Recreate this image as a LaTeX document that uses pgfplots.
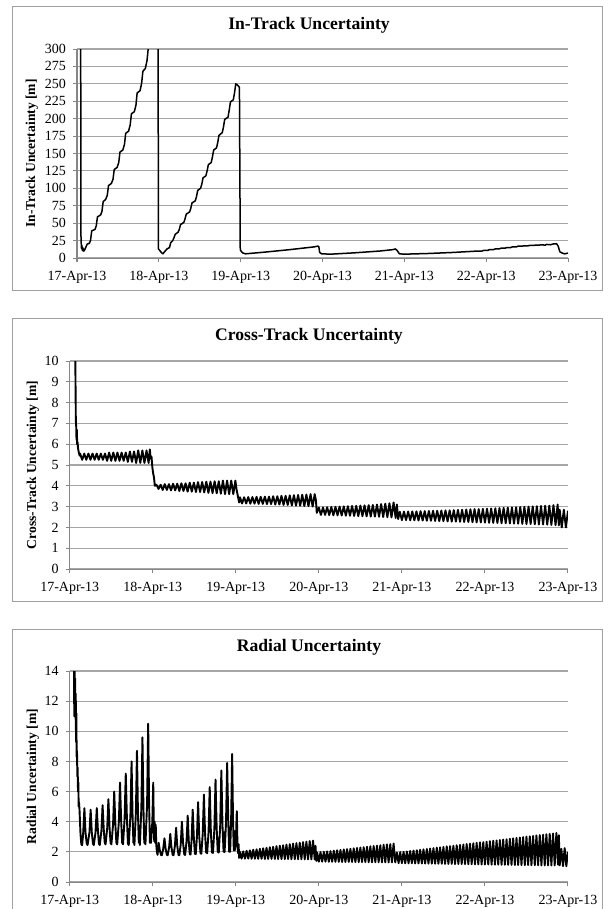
\documentclass[border=0pt]{standalone}
\usepackage{pgfplots}
\pgfplotsset{compat=1.18}
\usepackage{fontspec}
\setmainfont{Liberation Serif}

\definecolor{gridGray}{HTML}{A6A6A6}
\definecolor{axisGray}{HTML}{868686}
\definecolor{boxGray}{HTML}{A0A0A0}

\pgfplotsset{
  panel/.style={
    scale only axis,
    anchor=south west,
    xmin=0, xmax=6,
    xtick={0,1,2,3,4,5,6},
    xticklabels={17-Apr-13,18-Apr-13,19-Apr-13,20-Apr-13,21-Apr-13,22-Apr-13,23-Apr-13},
    axis lines*=left,
    axis line style={draw=axisGray, line width=0.5pt},
    tick style={draw=axisGray, line width=0.5pt},
    tick align=outside,
    major tick length=2pt,
    ymajorgrids,
    major grid style={draw=gridGray, line width=0.55pt},
    tick label style={font=\fontsize{7}{8}\selectfont},
    /pgf/number format/assume math mode=true,
    xticklabel style={yshift=-1pt},
    clip=true,
  },
  trace/.style={black, line width=0.75pt, line join=round, no markers},
  band/.style={black, line width=0.95pt, line join=round, no markers},
}

\begin{document}
\begin{tikzpicture}
\path[use as bounding box] (0,0) rectangle (303.5pt,-454.5pt);

% frames round the three panels
\draw[boxGray, line width=0.5pt] (6pt,-3.5pt) rectangle (301pt,-145pt);
\draw[boxGray, line width=0.5pt] (6pt,-159pt) rectangle (301pt,-300.5pt);
\draw[boxGray, line width=0.5pt] (6pt,-314.5pt) rectangle (301pt,-460pt);

\node[font=\bfseries\fontsize{8.8}{10}\selectfont] at (154.5pt,-12.5pt) {In-Track Uncertainty};
\node[font=\bfseries\fontsize{8.8}{10}\selectfont] at (154.5pt,-168pt) {Cross-Track Uncertainty};
\node[font=\bfseries\fontsize{8.8}{10}\selectfont] at (154.5pt,-323.5pt) {Radial Uncertainty};

% ---------------- In-Track ----------------
\begin{axis}[panel,
  at={(38.5pt,-129pt)}, width=245.5pt, height=104.5pt,
  ymin=0, ymax=300, ytick={0,25,...,300},
  ylabel={In-Track Uncertainty [m]},
  every axis y label/.style={at={(axis description cs:-0.0917,0.5)}, rotate=90, anchor=center,
    font=\bfseries\fontsize{6.8}{8}\selectfont},
]
\addplot[trace] coordinates {
(0.045,400) (0.047,40) (0.05,25) (0.055,14) (0.06,18) (0.065,11) (0.07,15) (0.075,10)
(0.08,13) (0.085,10) (0.095,12) (0.11,16) (0.125,20) (0.15,21) (0.165,25) (0.18,39)
(0.22,41) (0.235,46) (0.25,59) (0.29,62) (0.305,67) (0.32,81) (0.35,84) (0.37,90)
(0.385,104) (0.42,107) (0.44,113) (0.455,127) (0.49,130) (0.51,137) (0.525,152)
(0.56,155) (0.58,163) (0.595,179) (0.63,182) (0.65,191) (0.665,207) (0.70,210)
(0.72,219) (0.735,237) (0.77,240) (0.79,251) (0.805,268) (0.835,272) (0.855,283)
(0.87,300) (0.90,330) (0.99,400) (0.995,13) (1.01,11) (1.03,8) (1.05,6) (1.07,9)
(1.10,13) (1.13,15) (1.145,22) (1.17,25) (1.185,29) (1.20,34) (1.235,37) (1.25,41)
(1.265,48) (1.305,51) (1.32,56) (1.335,63) (1.375,66) (1.39,71) (1.405,79) (1.445,82)
(1.46,88) (1.475,97) (1.51,100) (1.525,106) (1.54,115) (1.575,118) (1.59,125)
(1.605,134) (1.64,137) (1.655,145) (1.67,155) (1.705,158) (1.72,166) (1.735,176)
(1.775,180) (1.79,188) (1.805,199) (1.845,202) (1.86,212) (1.875,224) (1.91,227)
(1.925,237) (1.94,250) (1.955,249) (1.97,247) (1.985,245) (1.995,12) (2.01,9)
(2.03,7) (2.06,6) (2.3,8.5) (2.6,12) (2.9,16) (2.94,17) (2.955,16.5) (2.965,8)
(2.99,6) (3.1,5.5) (3.4,7.5) (3.7,10) (3.82,11.5) (3.86,12) (3.89,13) (3.91,11)
(3.94,6) (4.0,5.5) (4.3,6.5) (4.6,8) (4.9,10) (4.95,10) (4.97,11) (5.02,11) (5.04,12)
(5.09,12) (5.11,13) (5.16,13) (5.18,14) (5.23,14) (5.25,15) (5.3,15) (5.32,16)
(5.37,16) (5.39,17) (5.44,17) (5.46,17.5) (5.51,17.5) (5.53,18) (5.58,18) (5.6,18.5)
(5.65,18.5) (5.67,19) (5.72,18.5) (5.74,19.5) (5.79,19) (5.81,20) (5.86,20.5)
(5.88,17) (5.9,9) (5.93,7) (5.96,6) (6.0,7)
};
\end{axis}

% ---------------- Cross-Track ----------------
\begin{axis}[panel,
  at={(34.85pt,-284.5pt)}, width=249.15pt, height=104pt,
  ymin=0, ymax=10, ytick={0,1,...,10},
  ylabel={Cross-Track Uncertainty [m]},
  every axis y label/.style={at={(axis description cs:-0.0737,0.5)}, rotate=90, anchor=center,
    font=\bfseries\fontsize{6.8}{8}\selectfont},
]
\addplot[band] coordinates {
(0.065,11) (0.07,9) (0.074,7.1) (0.078,6.9) (0.082,6.2) (0.086,6.7) (0.09,6.0)
(0.095,6.1) (0.1,5.8) (0.11,5.6) (0.12,5.45)
(0.125,5.55) (0.15,5.25) (0.175,5.55) (0.2,5.25) (0.225,5.55) (0.25,5.25) (0.275,5.55)
(0.3,5.25) (0.325,5.55) (0.35,5.25) (0.375,5.55) (0.4,5.25) (0.425,5.55) (0.45,5.2)
(0.475,5.6) (0.5,5.2) (0.525,5.6) (0.55,5.2) (0.575,5.6) (0.6,5.2) (0.625,5.6)
(0.65,5.2) (0.675,5.6) (0.7,5.15) (0.725,5.65) (0.75,5.15) (0.775,5.65) (0.8,5.1)
(0.825,5.7) (0.85,5.1) (0.875,5.7) (0.9,5.1) (0.925,5.7) (0.95,5.1) (0.965,5.75)
(0.975,5.3) (0.985,5.4) (0.995,4.9) (1.005,4.6) (1.015,4.4) (1.025,4.0) (1.045,4.05)
(1.07,3.85) (1.095,4.05) (1.12,3.8) (1.145,4.08) (1.17,3.8) (1.195,4.08) (1.22,3.78)
(1.245,4.1) (1.27,3.78) (1.295,4.1) (1.32,3.75) (1.345,4.12) (1.37,3.75) (1.395,4.12)
(1.42,3.72) (1.445,4.15) (1.47,3.72) (1.495,4.15) (1.52,3.7) (1.545,4.18) (1.57,3.7)
(1.595,4.18) (1.62,3.68) (1.645,4.2) (1.67,3.66) (1.695,4.2) (1.72,3.65) (1.745,4.22)
(1.77,3.64) (1.795,4.22) (1.82,3.62) (1.845,4.25) (1.87,3.6) (1.895,4.25) (1.92,3.6)
(1.945,4.25) (1.97,3.6) (1.995,4.25) (2.01,3.8) (2.02,3.6) (2.03,3.4) (2.04,3.2)
(2.05,3.45) (2.075,3.15) (2.1,3.45) (2.125,3.15) (2.15,3.46) (2.175,3.14) (2.2,3.46)
(2.225,3.14) (2.25,3.47) (2.275,3.13) (2.3,3.47) (2.325,3.13) (2.35,3.48) (2.375,3.12)
(2.4,3.48) (2.425,3.12) (2.45,3.5) (2.475,3.1) (2.5,3.5) (2.525,3.1) (2.55,3.52)
(2.575,3.08) (2.6,3.52) (2.625,3.08) (2.65,3.54) (2.675,3.06) (2.7,3.55) (2.725,3.05)
(2.75,3.56) (2.775,3.04) (2.8,3.57) (2.825,3.03) (2.85,3.58) (2.875,3.02) (2.9,3.6)
(2.925,3.0) (2.95,3.6) (2.965,3.3) (2.975,2.7)
(3.0,2.95) (3.025,2.6) (3.05,2.96) (3.075,2.6) (3.1,2.97) (3.125,2.59) (3.15,2.98)
(3.175,2.58) (3.2,2.99) (3.225,2.58) (3.25,3.0) (3.275,2.57) (3.3,3.01) (3.325,2.56)
(3.35,3.02) (3.375,2.56) (3.4,3.03) (3.425,2.55) (3.45,3.04) (3.475,2.54) (3.5,3.05)
(3.525,2.54) (3.55,3.06) (3.575,2.53) (3.6,3.07) (3.625,2.52) (3.65,3.08) (3.675,2.52)
(3.7,3.1) (3.725,2.51) (3.75,3.12) (3.775,2.5) (3.8,3.14) (3.825,2.49) (3.85,3.16)
(3.875,2.48) (3.9,3.2) (3.925,2.45) (3.94,3.1) (3.955,2.4)
(3.975,2.75) (4.0,2.35) (4.025,2.76) (4.05,2.35) (4.075,2.76) (4.1,2.34) (4.125,2.77)
(4.15,2.34) (4.175,2.77) (4.2,2.33) (4.225,2.78) (4.25,2.33) (4.275,2.78) (4.3,2.32)
(4.325,2.79) (4.35,2.32) (4.375,2.8) (4.4,2.31) (4.425,2.8) (4.45,2.3) (4.475,2.81)
(4.5,2.3) (4.525,2.82) (4.55,2.29) (4.575,2.82) (4.6,2.28) (4.625,2.83) (4.65,2.28)
(4.675,2.84) (4.7,2.27) (4.725,2.85) (4.75,2.26) (4.775,2.86) (4.8,2.26) (4.825,2.87)
(4.85,2.25) (4.875,2.88) (4.9,2.24) (4.925,2.88) (4.95,2.24) (4.975,2.89) (5.0,2.23)
(5.025,2.9) (5.05,2.22) (5.075,2.91) (5.1,2.22) (5.125,2.92) (5.15,2.21) (5.175,2.93)
(5.2,2.2) (5.225,2.94) (5.25,2.2) (5.275,2.95) (5.3,2.19) (5.325,2.96) (5.35,2.18)
(5.375,2.97) (5.4,2.18) (5.425,2.98) (5.45,2.17) (5.475,2.99) (5.5,2.16) (5.525,3.0)
(5.55,2.16) (5.575,3.01) (5.6,2.15) (5.625,3.02) (5.65,2.14) (5.675,3.03) (5.7,2.14)
(5.725,3.04) (5.75,2.13) (5.775,3.05) (5.8,2.12) (5.825,3.07) (5.85,2.11) (5.875,3.1)
(5.89,2.1) (5.9,2.85) (5.925,2.0) (5.95,2.85) (5.975,2.0) (6.0,2.8)
};
\end{axis}

% ---------------- Radial ----------------
\begin{axis}[panel,
  at={(34.85pt,-441pt)}, width=249.15pt, height=105.5pt,
  ymin=0, ymax=14, ytick={0,2,...,14},
  ylabel={Radial Uncertainty [m]},
  every axis y label/.style={at={(axis description cs:-0.0737,0.5)}, rotate=90, anchor=center,
    font=\bfseries\fontsize{6.8}{8}\selectfont},
]
\addplot[band] coordinates {
(0.05,16) (0.055,11) (0.06,14.6) (0.063,11) (0.066,13.5) (0.07,10.8) (0.073,12.5)
(0.076,9.3) (0.08,11.2) (0.084,8.3) (0.088,8.7) (0.092,7) (0.096,7.6) (0.10,6)
(0.104,6.6) (0.108,5) (0.112,5.3) (0.118,4.8)
(0.13,3.2) (0.14,2.5) (0.15,2.45) (0.163,3.3) (0.177,4.9)
(0.19,3.3) (0.205,2.55) (0.215,2.45) (0.238,3.3) (0.252,4.8)
(0.266,3.3) (0.28,2.55) (0.29,2.45) (0.311,3.3) (0.326,4.9)
(0.34,3.4) (0.352,2.55) (0.362,2.45) (0.382,3.4) (0.396,5.1)
(0.41,3.5) (0.422,2.6) (0.432,2.5) (0.452,3.6) (0.466,5.5)
(0.48,3.6) (0.492,2.6) (0.502,2.5) (0.522,3.8) (0.536,6.0)
(0.55,3.8) (0.562,2.6) (0.572,2.5) (0.592,4.0) (0.606,6.6)
(0.62,4.0) (0.632,2.6) (0.642,2.5) (0.661,4.2) (0.675,7.2)
(0.689,4.2) (0.701,2.55) (0.711,2.45) (0.731,4.4) (0.745,8.0)
(0.757,4.4) (0.767,2.6) (0.773,3.0) (0.779,2.45) (0.797,4.6) (0.81,8.7)
(0.822,4.6) (0.832,2.6) (0.838,3.1) (0.845,2.45) (0.863,4.9) (0.876,9.6)
(0.888,4.9) (0.898,2.6) (0.905,3.2) (0.912,2.5) (0.932,5.2) (0.945,10.5)
(0.956,5.2) (0.966,2.6) (0.972,3.3) (0.979,2.6) (0.995,4.0) (1.006,6.6)
(1.013,3.5) (1.018,2.7) (1.024,4.0) (1.03,2.6) (1.036,3.8) (1.042,2.5) (1.05,2.0)
(1.058,1.8) (1.071,2.6)
(1.085,2.1) (1.1,1.8) (1.11,1.78) (1.126,2.2) (1.141,2.9)
(1.155,2.2) (1.17,1.8) (1.18,1.78) (1.197,2.3) (1.211,3.2)
(1.225,2.3) (1.24,1.8) (1.25,1.78) (1.267,2.4) (1.281,3.6)
(1.295,2.4) (1.31,1.8) (1.32,1.78) (1.337,2.5) (1.351,4.0)
(1.365,2.6) (1.38,1.82) (1.39,1.8) (1.407,2.7) (1.421,4.4)
(1.434,2.7) (1.446,1.85) (1.455,1.82) (1.468,2.8) (1.481,4.8)
(1.495,2.9) (1.508,1.88) (1.518,1.85) (1.532,3.0) (1.546,5.3)
(1.56,3.0) (1.575,1.9) (1.585,1.88) (1.602,3.2) (1.616,5.8)
(1.63,3.2) (1.643,1.95) (1.649,2.6) (1.655,1.9) (1.672,3.3) (1.686,6.3)
(1.7,3.3) (1.713,1.95) (1.719,2.7) (1.725,1.92) (1.742,3.5) (1.756,6.8)
(1.77,3.5) (1.783,1.98) (1.789,2.9) (1.795,1.95) (1.812,3.7) (1.826,7.4)
(1.84,3.7) (1.853,2.0) (1.859,3.3) (1.865,1.98) (1.882,3.9) (1.896,7.9)
(1.91,3.9) (1.92,2.0) (1.926,3.6) (1.932,2.0) (1.944,4.2) (1.956,8.5)
(1.967,4.0) (1.976,2.1) (1.982,3.4) (1.988,2.1) (2.0,2.6) (2.012,4.7)
(2.02,2.5) (2.028,1.9) (2.034,2.5) (2.04,1.6)
(2.05,2.00) (2.07,1.55) (2.09,2.03) (2.11,1.55) (2.13,2.07) (2.15,1.55) (2.17,2.10)
(2.19,1.54) (2.21,2.14) (2.23,1.54) (2.25,2.17) (2.27,1.54) (2.29,2.20) (2.31,1.54)
(2.33,2.24) (2.35,1.53) (2.37,2.27) (2.39,1.53) (2.41,2.31) (2.43,1.53) (2.45,2.34)
(2.47,1.53) (2.49,2.38) (2.51,1.52) (2.53,2.41) (2.55,1.52) (2.57,2.44) (2.59,1.52)
(2.61,2.48) (2.63,1.52) (2.65,2.51) (2.67,1.51) (2.69,2.55) (2.71,1.51) (2.73,2.58)
(2.75,1.51) (2.77,2.61) (2.79,1.51) (2.81,2.65) (2.83,1.50) (2.85,2.68) (2.87,1.50)
(2.89,2.72) (2.91,1.50) (2.93,2.75) (2.95,1.50) (2.96,2.4) (2.97,1.4)
(2.98,1.95) (3.00,1.35) (3.02,1.98) (3.04,1.35) (3.06,2.00) (3.08,1.35) (3.10,2.03)
(3.12,1.34) (3.14,2.05) (3.16,1.34) (3.18,2.08) (3.20,1.34) (3.22,2.11) (3.24,1.34)
(3.26,2.13) (3.28,1.33) (3.30,2.16) (3.32,1.33) (3.34,2.18) (3.36,1.33) (3.38,2.21)
(3.40,1.33) (3.42,2.24) (3.44,1.32) (3.46,2.26) (3.48,1.32) (3.50,2.29) (3.52,1.32)
(3.54,2.31) (3.56,1.32) (3.58,2.34) (3.60,1.31) (3.62,2.37) (3.64,1.31) (3.66,2.39)
(3.68,1.31) (3.70,2.42) (3.72,1.31) (3.74,2.44) (3.76,1.30) (3.78,2.47) (3.80,1.30)
(3.82,2.50) (3.84,1.30) (3.86,2.52) (3.88,1.30) (3.90,2.55) (3.92,1.30)
(3.94,1.95) (3.96,1.25) (3.98,1.98) (4.00,1.25) (4.02,2.00) (4.04,1.24) (4.06,2.03)
(4.08,1.24) (4.10,2.06) (4.12,1.24) (4.14,2.09) (4.16,1.23) (4.18,2.11) (4.20,1.23)
(4.22,2.14) (4.24,1.23) (4.26,2.17) (4.28,1.22) (4.30,2.19) (4.32,1.22) (4.34,2.22)
(4.36,1.22) (4.38,2.25) (4.40,1.21) (4.42,2.28) (4.44,1.21) (4.46,2.30) (4.48,1.21)
(4.50,2.33) (4.52,1.20) (4.54,2.36) (4.56,1.20) (4.58,2.38) (4.60,1.20) (4.62,2.41)
(4.64,1.19) (4.66,2.44) (4.68,1.19) (4.70,2.46) (4.72,1.19) (4.74,2.49) (4.76,1.18)
(4.78,2.52) (4.80,1.18) (4.82,2.55) (4.84,1.18) (4.86,2.57) (4.88,1.17) (4.90,2.60)
(4.92,1.17) (4.94,2.63) (4.96,1.16) (4.98,2.65) (5.00,1.16) (5.02,2.68) (5.04,1.16)
(5.06,2.71) (5.08,1.15) (5.10,2.74) (5.12,1.15) (5.14,2.76) (5.16,1.15) (5.18,2.79)
(5.20,1.14) (5.22,2.82) (5.24,1.14) (5.26,2.84) (5.28,1.14) (5.30,2.87) (5.32,1.13)
(5.34,2.90) (5.36,1.13) (5.38,2.93) (5.40,1.13) (5.42,2.95) (5.44,1.12) (5.46,2.98)
(5.48,1.12) (5.50,3.01) (5.52,1.12) (5.54,3.03) (5.56,1.11) (5.58,3.06) (5.60,1.11)
(5.62,3.09) (5.64,1.11) (5.66,3.12) (5.68,1.10) (5.70,3.14) (5.72,1.10) (5.74,3.17)
(5.76,1.10) (5.78,3.20) (5.80,1.10) (5.82,3.22) (5.84,1.10) (5.86,3.25) (5.88,1.15)
(5.89,3.1) (5.90,1.1) (5.92,2.2) (5.94,1.05) (5.96,2.25) (5.98,1.05) (6.0,2.0)
};
\end{axis}
\end{tikzpicture}
\end{document}
